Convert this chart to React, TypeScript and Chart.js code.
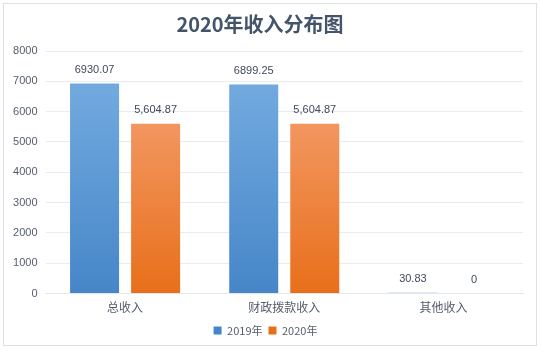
import React, { useEffect, useRef } from "react";
import { Chart, registerables } from "chart.js";

Chart.register(...registerables);

const titleText = "2020年收入分布图";
const categories = ["总收入", "财政拨款收入", "其他收入"];
const seriesNames = ["2019年", "2020年"];
const values2019 = [6930.07, 6899.25, 30.83];
const values2020 = [5604.87, 5604.87, 0];
const labels2019 = ["6930.07", "6899.25", "30.83"];
const labels2020 = ["5,604.87", "5,604.87", "0"];
const yTicks = [0, 1000, 2000, 3000, 4000, 5000, 6000, 7000, 8000];

const FONT = "'Liberation Sans', 'Noto Sans CJK SC', sans-serif";
const CJK = "'Noto Sans CJK SC', 'Liberation Sans', sans-serif";

function gradientFor(top: string, bottom: string) {
  return (ctx: any) => {
    const chart = ctx.chart;
    if (!chart.chartArea || ctx.type !== "data") return bottom;
    const y = chart.scales.y;
    const v = ctx.parsed ? ctx.parsed.y : ctx.raw;
    let y0 = y.getPixelForValue(0);
    let y1 = y.getPixelForValue(v);
    if (Math.abs(y0 - y1) < 1) y1 = y0 - 1;
    const g = chart.ctx.createLinearGradient(0, y1, 0, y0);
    g.addColorStop(0, top);
    g.addColorStop(1, bottom);
    return g;
  };
}

const valueLabels = {
  id: "valueLabels",
  afterDatasetsDraw(chart: any) {
    const ctx = chart.ctx;
    const all = [labels2019, labels2020];
    ctx.save();
    ctx.font = "11px " + FONT;
    ctx.fillStyle = "#404a5a";
    ctx.textAlign = "center";
    ctx.textBaseline = "bottom";
    chart.data.datasets.forEach((ds: any, di: number) => {
      const meta = chart.getDatasetMeta(di);
      meta.data.forEach((bar: any, i: number) => {
        ctx.fillText(all[di][i], bar.x, bar.y - 8);
      });
    });
    ctx.restore();
  },
};

export default function App() {
  const ref = useRef<HTMLCanvasElement>(null);
  useEffect(() => {
    document.body.style.margin = "0";
    const chart = new Chart(ref.current!, {
      type: "bar",
      data: {
        labels: categories,
        datasets: [
          {
            label: seriesNames[0],
            data: values2019,
            backgroundColor: gradientFor("#72aadf", "#4686c8"),
            borderWidth: 0,
          },
          {
            label: seriesNames[1],
            data: values2020,
            backgroundColor: gradientFor("#f29660", "#e86f1a"),
            borderWidth: 0,
          },
        ],
      },
      options: {
        animation: false,
        responsive: false,
        maintainAspectRatio: false,
        layout: { padding: { left: 8, right: 19, top: 51, bottom: 6 } },
        datasets: {
          bar: { categoryPercentage: 0.767, barPercentage: 0.803 },
        },
        scales: {
          x: {
            grid: { display: false },
            border: { display: true, color: "#e3e6ea" },
            afterFit: (s: any) => {
              s.height += 5;
            },
            ticks: {
              color: "#555d6b",
              font: { size: 12, family: CJK },
              padding: -1,
            },
          },
          y: {
            min: 0,
            max: 8000,
            afterBuildTicks: (s: any) => {
              s.ticks = yTicks.map((v) => ({ value: v }));
            },
            afterFit: (s: any) => {
              s.width = 37.5;
            },
            grid: { color: "#e8ebef", drawTicks: false },
            border: { display: false },
            ticks: {
              color: "#555d6b",
              font: { size: 11, family: FONT },
              padding: 8,
              callback: (v: any) => String(v),
            },
          },
        },
        plugins: {
          title: { display: false },
          legend: {
            position: "bottom",
            labels: {
              boxWidth: 8,
              boxHeight: 8,
              color: "#555d6b",
              font: { size: 11, family: CJK },
              padding: 6,
            },
          },
          tooltip: { enabled: false },
        },
      },
      plugins: [valueLabels],
    });
    return () => chart.destroy();
  }, []);
  return (
    <div style={{ position: "absolute", left: 0, top: 0, width: 542, height: 352, background: "#fff" }}>
      <div
        style={{
          position: "absolute",
          left: 3,
          top: 3,
          width: 532,
          height: 341,
          border: "1px solid #dcdfe4",
        }}
      />
      <canvas ref={ref} width={542} height={352} style={{ position: "absolute", left: 0, top: 0 }} />
      <div
        style={{
          position: "absolute",
          left: 160,
          width: 200,
          top: 10,
          textAlign: "center",
          fontFamily: CJK,
          fontWeight: "bold",
          fontSize: 20,
          lineHeight: "28px",
          color: "#44546a",
        }}
      >
        {titleText}
      </div>
    </div>
  );
}
